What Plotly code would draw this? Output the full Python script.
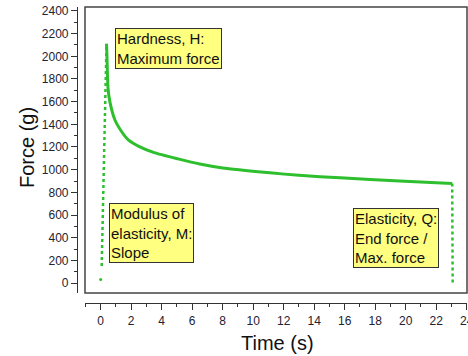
import plotly.graph_objects as go

# ---- data ----
start_t = [0.0]
start_f = [30]

rise_t = [0.066, 0.2, 0.38]
rise_f = [150, 1000, 2110]

decay_t = [0.38, 0.40, 0.43, 0.48, 0.6, 0.94, 1.3, 1.81, 2.5, 3.5, 5.07, 6.5, 8.0, 11.1, 13.0, 15.7, 19.6, 23.05]
decay_f = [2110, 2050, 1900, 1720, 1600, 1436, 1350, 1262, 1205, 1150, 1095, 1050, 1015, 972, 950, 928, 901, 878]

drop_t = [23.05, 23.08]
drop_f = [878, 0]

x_ticks = [0, 2, 4, 6, 8, 10, 12, 14, 16, 18, 20, 22, 24]
y_ticks = [0, 200, 400, 600, 800, 1000, 1200, 1400, 1600, 1800, 2000, 2200, 2400]

notes = [
    (0.94, 2250, "Hardness, H:<br>Maximum force"),
    (0.56, 707, "Modulus of<br>elasticity, M:<br>Slope"),
    (16.52, 658, "Elasticity, Q:<br>End force /<br>Max. force"),
]

GREEN = "#2dbf2d"
FONT = "Liberation Sans, Arial, sans-serif"

fig = go.Figure()
fig.add_trace(go.Scatter(x=start_t, y=start_f, mode="markers",
                         marker=dict(color=GREEN, size=3), hoverinfo="skip"))
fig.add_trace(go.Scatter(x=rise_t, y=rise_f, mode="lines",
                         line=dict(color=GREEN, width=2.5, dash="dot"), hoverinfo="skip"))
fig.add_trace(go.Scatter(x=decay_t, y=decay_f, mode="lines",
                         line=dict(color=GREEN, width=3, shape="spline", smoothing=0.6), hoverinfo="skip"))
fig.add_trace(go.Scatter(x=drop_t, y=drop_f, mode="lines",
                         line=dict(color=GREEN, width=2.5, dash="dot"), hoverinfo="skip"))

# frame around plotting region
fig.add_shape(type="rect", xref="x domain", yref="y domain", x0=0, x1=1, y0=0, y1=1,
              line=dict(color="#444444", width=1.5), layer="above")

for x, y, txt in notes:
    fig.add_annotation(x=x, y=y, xref="x", yref="y", text=txt, showarrow=False,
                       xanchor="left", yanchor="top", align="left",
                       font=dict(family=FONT, size=15, color="#111111"),
                       bgcolor="#ffff80", bordercolor="#333333", borderwidth=1, borderpad=1)

# axis titles
fig.add_annotation(x=0.513, y=-0.135, xref="paper", yref="paper", text="Time (s)",
                   showarrow=False, xanchor="center", yanchor="middle",
                   font=dict(family=FONT, size=20, color="#111111"))
fig.add_annotation(x=-0.128, y=0.524, xref="paper", yref="paper", text="Force (g)",
                   showarrow=False, xanchor="center", yanchor="middle", textangle=-90,
                   font=dict(family=FONT, size=20, color="#111111"))

fig.update_layout(
    width=468, height=356,
    margin=dict(l=77, r=1, t=7, b=53, autoexpand=False),
    paper_bgcolor="white", plot_bgcolor="white",
    showlegend=False,
    font=dict(family=FONT, color="#222222"),
    xaxis=dict(
        domain=[0.0205, 1], range=[-1.03, 24.02],
        anchor="free", position=0, automargin=False,
        showgrid=False, zeroline=False, ticklabeloverflow="allow",
        showline=True, linecolor="#333333", linewidth=1.2,
        ticks="outside", ticklen=6, tickcolor="#333333", tickwidth=1.2,
        tickvals=x_ticks, tickfont=dict(size=12, family=FONT, color="#222233"),
        minor=dict(dtick=1, tick0=0, ticklen=3, tickcolor="#333333", ticks="outside", showgrid=False),
    ),
    yaxis=dict(
        domain=[0.0338, 1], range=[-88, 2435],
        anchor="free", position=0, automargin=False,
        showgrid=False, zeroline=False, ticklabeloverflow="allow",
        showline=True, linecolor="#333333", linewidth=1.2,
        ticks="outside", ticklen=6, tickcolor="#333333", tickwidth=1.2,
        tickvals=y_ticks, tickfont=dict(size=12, family=FONT, color="#222233"),
        minor=dict(dtick=100, tick0=0, ticklen=3, tickcolor="#333333", ticks="outside", showgrid=False),
    ),
)

fig.write_html("out.html", config={"displayModeBar": False},
               post_script="document.body.style.margin='0';")
